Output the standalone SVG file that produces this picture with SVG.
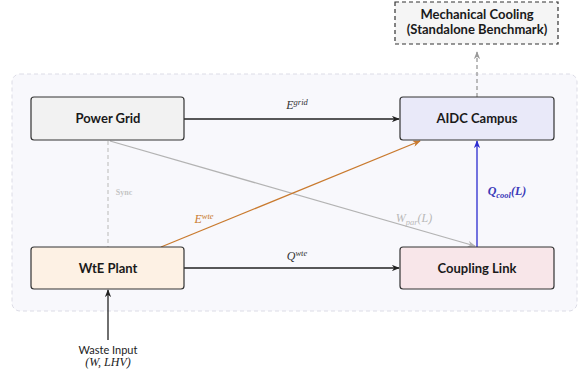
<svg xmlns="http://www.w3.org/2000/svg" width="582" height="375" viewBox="0 0 582 375">
<defs>
<style>
.node rect{stroke:#333;stroke-width:1.2}
.lbl{font-family:Lato,"Liberation Sans",sans-serif;font-weight:bold;font-size:13px;fill:#1a1a1a;text-anchor:middle}
.math{font-family:"Liberation Serif","DejaVu Serif",serif;font-style:italic;font-size:12px;text-anchor:middle}
.sup{font-size:8.5px}
.edge{fill:none;stroke-width:1.3}
</style>
<marker id="ak" viewBox="0 0 10 8" refX="9" refY="4" markerWidth="8" markerHeight="6.4" orient="auto" markerUnits="userSpaceOnUse"><path d="M0,0 L10,4 L0,8 L3,4 z" fill="#222"/></marker>
<marker id="ao" viewBox="0 0 10 8" refX="9" refY="4" markerWidth="8" markerHeight="6.4" orient="auto" markerUnits="userSpaceOnUse"><path d="M0,0 L10,4 L0,8 L3,4 z" fill="#c97a2e"/></marker>
<marker id="ab" viewBox="0 0 10 8" refX="9" refY="4" markerWidth="8" markerHeight="6.4" orient="auto" markerUnits="userSpaceOnUse"><path d="M0,0 L10,4 L0,8 L3,4 z" fill="#2a2ad0"/></marker>
<marker id="ag" viewBox="0 0 10 8" refX="9" refY="4" markerWidth="8" markerHeight="6.4" orient="auto" markerUnits="userSpaceOnUse"><path d="M0,0 L10,4 L0,8 L3,4 z" fill="#b3b3b3"/></marker>
<marker id="ad" viewBox="0 0 10 8" refX="9" refY="4" markerWidth="8" markerHeight="6.4" orient="auto" markerUnits="userSpaceOnUse"><path d="M0,0 L10,4 L0,8 L3,4 z" fill="#999"/></marker>
</defs>
<rect width="582" height="375" fill="#ffffff"/>
<rect id="panel" x="12" y="74" width="565" height="237" rx="8" fill="#f8f8fc" stroke="#dcdce6" stroke-width="1" stroke-dasharray="4 3"/>

<g id="connectors">
<line class="edge" x1="108" y1="141" x2="108" y2="247" stroke="#c8c8c8" stroke-dasharray="4 3"/>
<line class="edge" x1="110" y1="141" x2="475" y2="246" stroke="#b3b3b3" marker-end="url(#ag)"/>
<line class="edge" x1="161" y1="247" x2="420" y2="141" stroke="#c97a2e" marker-end="url(#ao)"/>
<line class="edge" x1="184" y1="119" x2="399" y2="119" stroke="#222" marker-end="url(#ak)"/>
<line class="edge" x1="184" y1="268" x2="399" y2="268" stroke="#222" marker-end="url(#ak)"/>
<line class="edge" x1="477" y1="247" x2="477" y2="141" stroke="#2a2ad0" marker-end="url(#ab)"/>
<line class="edge" x1="477" y1="97" x2="477" y2="52" stroke="#999" stroke-dasharray="4 3" marker-end="url(#ad)"/>
<line class="edge" x1="108" y1="340" x2="108" y2="290" stroke="#222" stroke-width="1.5" marker-end="url(#ak)"/>
<text class="math" x="297" y="109" fill="#333">E<tspan class="sup" dy="-4">grid</tspan></text>
<text class="math" x="297" y="260" fill="#333">Q<tspan class="sup" dy="-4">wte</tspan></text>
<text class="math" x="204" y="223" fill="#c97a2e">E<tspan class="sup" dy="-4">wte</tspan></text>
<text class="math" x="414" y="222" fill="#b8b8b8">W<tspan class="sup" dy="3">par</tspan><tspan dy="-3">(L)</tspan></text>
<text class="math" x="507" y="195" fill="#3a3ab8" font-weight="bold">Q<tspan class="sup" dy="3">cool</tspan><tspan dy="-3">(L)</tspan></text>
<text x="124" y="195" font-family="Liberation Serif,serif" font-size="8" font-weight="bold" fill="#c4c4c4" text-anchor="middle">Sync</text>
</g>

<g id="mech" class="node">
<rect x="395" y="2" width="163" height="42" fill="#f5f5f5" stroke="#333" stroke-width="1.2" stroke-dasharray="4 3"/>
<text class="lbl" x="477" y="19" font-size="11.5">Mechanical Cooling</text>
<text class="lbl" x="477" y="34" font-size="11.5">(Standalone Benchmark)</text>
</g>
<g id="grid" class="node">
<rect x="31" y="97" width="153" height="43" rx="3" fill="#f2f2f2"/>
<text class="lbl" x="108" y="123">Power Grid</text>
</g>
<g id="aidc" class="node">
<rect x="400" y="97" width="154" height="43" rx="3" fill="#e9e9f9"/>
<text class="lbl" x="477" y="123">AIDC Campus</text>
</g>
<g id="wte" class="node">
<rect x="31" y="247" width="153" height="42" rx="3" fill="#fdf1e4"/>
<text class="lbl" x="108" y="273">WtE Plant</text>
</g>
<g id="coupling" class="node">
<rect x="400" y="247" width="154" height="42" rx="3" fill="#f8e6e9"/>
<text class="lbl" x="477" y="273">Coupling Link</text>
</g>
<g id="waste">
<text x="108" y="354" font-family="Lato,Liberation Sans,sans-serif" font-size="11" fill="#222" text-anchor="middle">Waste Input</text>
<text class="math" x="108" y="366" fill="#222">(W, LHV)</text>
</g>
</svg>
